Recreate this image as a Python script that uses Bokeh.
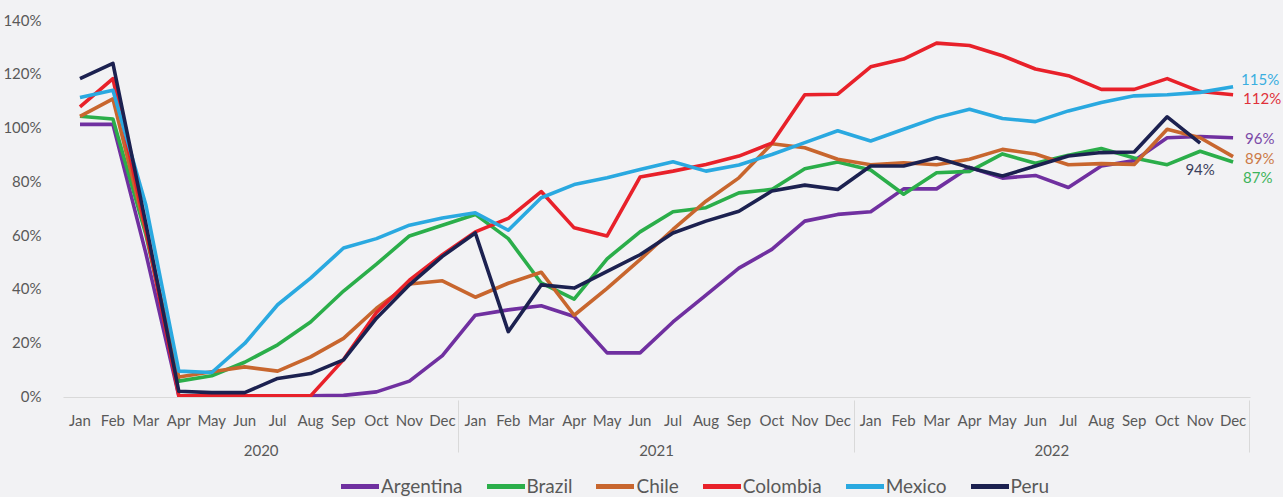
import math
from bokeh.plotting import figure
from bokeh.layouts import column
from bokeh.models import (FactorRange, Range1d, ColumnDataSource, FixedTicker,
                          PrintfTickFormatter, Legend, LegendItem, LabelSet)
from bokeh.core.properties import value
from bokeh.embed import file_html
from bokeh.resources import INLINE

# ---------------- data ----------------
years = ["2020", "2021", "2022"]
months = ["Jan", "Feb", "Mar", "Apr", "May", "Jun",
          "Jul", "Aug", "Sep", "Oct", "Nov", "Dec"]
countries = ["Argentina", "Brazil", "Chile", "Colombia", "Mexico", "Peru"]

argentina = [101, 101, 53, 0, 0, 0, 0, 0, 0.2, 1.5, 5.5, 15,
             30, 32, 33.5, 29.5, 16, 16, 27.5, 37.5, 47.5, 54.5, 65, 67.5,
             68.5, 77, 77, 85, 81, 82, 77.5, 85.5, 87.5, 96, 96.5, 96]
brazil = [104, 103, 60, 5.5, 7.5, 12.5, 19, 27.5, 39, 49, 59.5, 63.5,
          67.5, 58.5, 42, 36, 51, 61, 68.5, 70, 75.5, 76.8, 84.5, 87,
          84, 75, 83, 83.5, 90, 86.5, 89.5, 92, 88.5, 86, 91, 87]
chile = [104, 110.5, 61, 7, 9, 10.8, 9.2, 14.5, 21.4, 32.6, 41.6, 42.8,
         36.7, 41.9, 46, 30, 40, 50.7, 61.9, 72.4, 81.1, 93.8, 92.3, 88,
         86, 86.7, 86, 88, 91.7, 90, 86, 86.4, 86.1, 99.2, 96, 89]
colombia = [107.5, 118, 62, 0, 0, 0, 0, 0, 13.5, 31, 43, 52.5,
            61, 66, 76, 62.5, 59.5, 81.4, 83.6, 86.1, 89.2, 94, 112, 112.2,
            122.4, 125.3, 131.2, 130.3, 126.5, 121.6, 119.1, 114, 114, 118, 113.2, 112]
mexico = [111, 113.7, 71, 9.2, 8.7, 19.5, 33.9, 43.8, 55, 58.5, 63.5, 66.2,
          68.1, 61.6, 73.7, 78.6, 81.1, 84.2, 87.1, 83.6, 85.9, 89.8, 94.2, 98.6,
          94.8, 99.2, 103.5, 106.6, 103.2, 102, 106, 109.1, 111.6, 112, 112.9, 115]
peru = [118, 123.7, 64, 1.7, 1.2, 1.2, 6.5, 8.3, 13.4, 28.9, 41.3, 51.9,
        60.6, 23.9, 41.3, 40.1, 46.3, 52.5, 60.6, 65, 68.7, 76.2, 78.4, 76.8,
        85.5, 85.5, 88.6, 84.9, 81.8, 85.5, 89.2, 90.5, 90.7, 103.8, 94, float("nan")]

y_ticks = [0, 20, 40, 60, 80, 100, 120, 140]

# ---------------- styles ----------------
series = [argentina, brazil, chile, colombia, mexico, peru]
line_colors = ["#7030A0", "#2BAE4A", "#C8662E", "#E8212A", "#2AA9E0", "#1C2150"]
label_colors = ["#7B4AA8", "#3DB35A", "#CC7A48", "#E0303A", "#3AAEE0", "#3C3F5C"]
label_dx = [12, 10, 12, 10, 8, 0]
label_dy = [0, -15, -1, -3, 8, -26]
label_align = ["left", "left", "left", "left", "left", "center"]

BG = "#F2F2F4"
TXT = "#595959"
FONT = "Lato"

factors = [(y, m) for y in years for m in months]
# one blank slot after the last month leaves room for the end labels
pad_slot = [(" ", " ")]

p = figure(
    x_range=FactorRange(*(factors + pad_slot), factor_padding=0, group_padding=0,
                        subgroup_padding=0, range_padding=0),
    y_range=Range1d(-0.6, 140),
    width=1282, height=458,
    output_backend="svg", toolbar_location=None,
    min_border_left=63, min_border_right=0, min_border_top=19, min_border_bottom=0,
    background_fill_color=BG, border_fill_color=BG, outline_line_color=None,
)

p.xgrid.visible = False
p.ygrid.visible = False

# y axis
p.yaxis.ticker = FixedTicker(ticks=y_ticks)
p.yaxis.formatter = PrintfTickFormatter(format="%d%%")
p.yaxis.axis_line_color = None
p.yaxis.major_tick_line_color = None
p.yaxis.minor_tick_line_color = None
p.yaxis.major_label_standoff = 16
p.yaxis.major_label_text_font = FONT
p.yaxis.major_label_text_font_size = "15px"
p.yaxis.major_label_text_color = TXT

# x axis (line limited to the real months)
xa = p.xaxis[0]
xa.bounds = (0, len(factors) + 0.02)
xa.axis_line_color = "#D9D9D9"
xa.axis_line_width = 1
xa.major_tick_line_color = None
xa.major_tick_out = 0
xa.minor_tick_line_color = None
xa.major_label_standoff = 13
xa.major_label_text_font = FONT
xa.major_label_text_font_size = "15px"
xa.major_label_text_color = TXT
xa.group_text_font = FONT
xa.group_text_font_size = "15px"
xa.group_text_font_style = "normal"
xa.group_text_color = TXT
xa.separator_line_color = "#D9D9D9"
xa.separator_line_width = 1

# lines
for vals, col in zip(series, line_colors):
    src = ColumnDataSource(dict(x=factors, y=vals))
    p.line("x", "y", source=src, line_color=col, line_width=3.6, line_join="round")

# end labels (at the last valid month of each series)
last_idx = [max(j for j, v in enumerate(vals) if not math.isnan(v)) for vals in series]
lab_src = ColumnDataSource(dict(
    x=[factors[i] for i in last_idx],
    y=[series[k][i] for k, i in enumerate(last_idx)],
    text=[f"{round(series[k][i])}%" for k, i in enumerate(last_idx)],
    color=label_colors, dx=label_dx, dy=label_dy, align=label_align,
))
p.add_layout(LabelSet(x="x", y="y", text="text", source=lab_src,
                      x_offset="dx", y_offset="dy", text_align="align",
                      text_baseline=value("middle"), text_color="color",
                      text_font=value(FONT), text_font_size=value("15px")))

# legend strip below the chart
lg = figure(width=1282, height=39, output_backend="svg", toolbar_location=None,
            x_range=Range1d(0, 1), y_range=Range1d(0, 1),
            x_axis_type=None, y_axis_type=None,
            min_border_left=0, min_border_right=0, min_border_top=0, min_border_bottom=0,
            background_fill_color=BG, border_fill_color=BG, outline_line_color=None)
lg.xgrid.visible = False
lg.ygrid.visible = False
items = []
for name, col in zip(countries, line_colors):
    r = lg.line(x=[float("nan")], y=[float("nan")], line_color=col, line_width=5,
                line_cap="round")
    items.append(LegendItem(label=name, renderers=[r]))
legend = Legend(items=items, orientation="horizontal", location=(278, 0),
                glyph_width=38, glyph_height=16, label_standoff=2, spacing=24,
                padding=0, margin=0, border_line_color=None,
                background_fill_alpha=0, label_text_font=FONT,
                label_text_font_size="19px", label_text_color=TXT)
lg.add_layout(legend)

page = column(p, lg, spacing=0)

html = file_html(page, INLINE)
html = html.replace("<body>", '<body style="background:#F2F2F4">')
open("out.html", "w").write(html)
